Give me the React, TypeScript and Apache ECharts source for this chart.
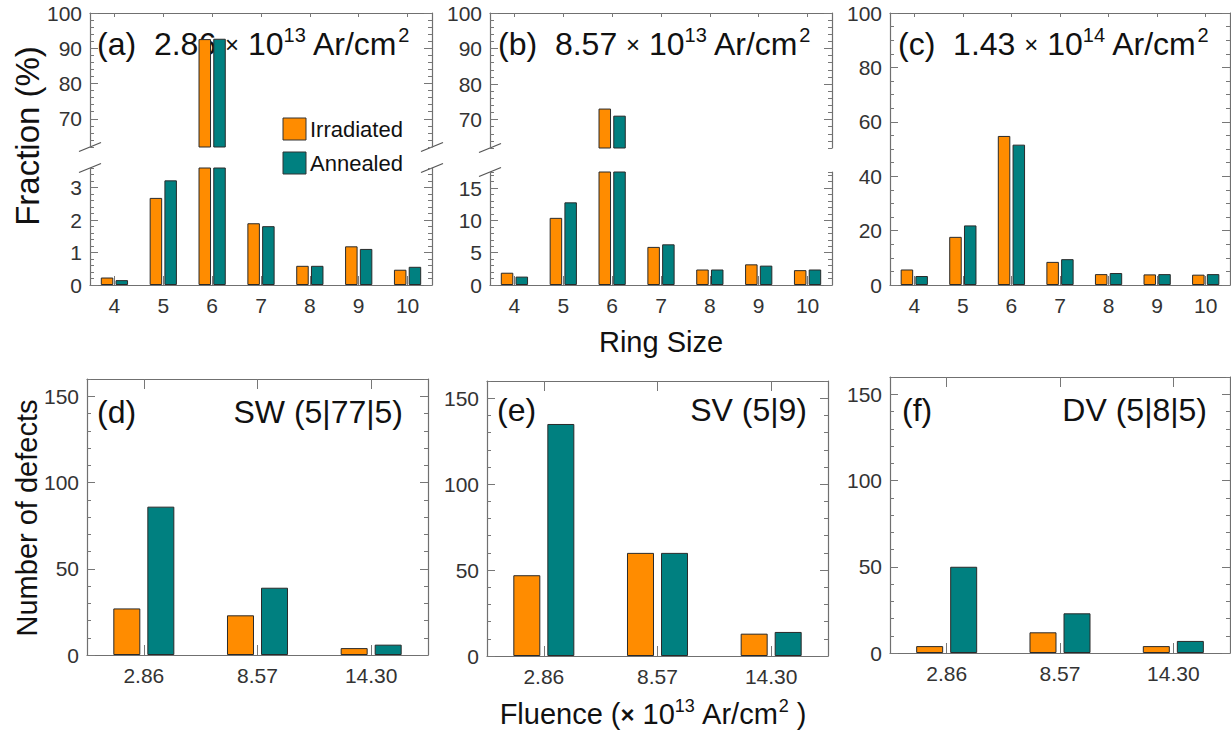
import React, { useEffect, useRef } from 'react';
import * as echarts from 'echarts';

// ---------- data ----------
const ringSizes = ['4', '5', '6', '7', '8', '9', '10'];
const fluenceLabels = ['2.86', '8.57', '14.30'];

const aIrradiated = [0.23, 2.68, 92.6, 1.9, 0.59, 1.19, 0.47];
const aAnnealed = [0.15, 3.22, 92.7, 1.81, 0.59, 1.11, 0.56];
const bIrradiated = [1.9, 10.4, 73.1, 5.9, 2.4, 3.2, 2.3];
const bAnnealed = [1.3, 12.8, 71.1, 6.3, 2.4, 3.0, 2.4];
const cIrradiated = [5.7, 17.7, 54.8, 8.5, 4.0, 3.9, 3.8];
const cAnnealed = [3.3, 21.9, 51.6, 9.5, 4.4, 4.0, 4.0];

const dIrradiated = [27, 23, 4];
const dAnnealed = [86, 39, 6];
const eIrradiated = [47, 60, 13];
const eAnnealed = [135, 60, 14];
const fIrradiated = [4, 12, 4];
const fAnnealed = [50, 23, 7];

const upperTicks = [70, 80, 90, 100];
const aLowerTicks = [0, 1, 2, 3];
const bLowerTicks = [0, 5, 10, 15];
const cTicks = [0, 20, 40, 60, 80, 100];
const defectTicks = [0, 50, 100, 150];

// ---------- style ----------
const FONT = '"Liberation Sans", Arial, Helvetica, sans-serif';
const ORANGE = '#FF8C00';
const TEAL = '#008080';
const AXIS_COLOR = '#707070';
const TICK_COLOR = '#777777';
const LABEL_COLOR = '#333333';
const TEXT_COLOR = '#111111';

type Panel = {
  rect: { left: number; top: number; width: number; height: number };
  cats: string[];
  irr: number[];
  ann: number[];
  min: number;
  max: number;
  major: number[];
  minor: number;
  upper: boolean;
  bottom: boolean;
  top: boolean;
  topLen: number;
  botLen: number;
  barWidth: number;
  barGap: string;
};

const topRow = { topLen: 4, botLen: 9, barWidth: 12.5, barGap: '18%' };
const botRow = { topLen: 10, botLen: 10, barWidth: 27, barGap: '26%' };

const panels: Panel[] = [
  { rect: { left: 90, top: 13, width: 342, height: 134 }, cats: ringSizes, irr: aIrradiated, ann: aAnnealed, min: 62, max: 100, major: upperTicks, minor: 2, upper: true, bottom: false, top: true, ...topRow },
  { rect: { left: 90, top: 168, width: 342, height: 117 }, cats: ringSizes, irr: aIrradiated, ann: aAnnealed, min: 0, max: 3.6, major: aLowerTicks, minor: 0.2, upper: false, bottom: true, top: false, ...topRow },
  { rect: { left: 490, top: 13, width: 342, height: 135 }, cats: ringSizes, irr: bIrradiated, ann: bAnnealed, min: 62, max: 100, major: upperTicks, minor: 2, upper: true, bottom: false, top: true, ...topRow },
  { rect: { left: 490, top: 172, width: 342, height: 113 }, cats: ringSizes, irr: bIrradiated, ann: bAnnealed, min: 0, max: 17.5, major: bLowerTicks, minor: 1, upper: false, bottom: true, top: false, ...topRow },
  { rect: { left: 890, top: 13, width: 340, height: 272 }, cats: ringSizes, irr: cIrradiated, ann: cAnnealed, min: 0, max: 100, major: cTicks, minor: 5, upper: false, bottom: true, top: true, ...topRow },
  { rect: { left: 87, top: 379, width: 341, height: 276 }, cats: fluenceLabels, irr: dIrradiated, ann: dAnnealed, min: 0, max: 160, major: defectTicks, minor: 10, upper: false, bottom: true, top: true, ...botRow },
  { rect: { left: 487, top: 381, width: 341, height: 275 }, cats: fluenceLabels, irr: eIrradiated, ann: eAnnealed, min: 0, max: 160, major: defectTicks, minor: 10, upper: false, bottom: true, top: true, ...botRow },
  { rect: { left: 890, top: 377, width: 340, height: 276 }, cats: fluenceLabels, irr: fIrradiated, ann: fAnnealed, min: 0, max: 160, major: defectTicks, minor: 10, upper: false, bottom: true, top: true, ...botRow },
];

const TITLE_SIZE = 32;
const AXIS_TITLE_SIZE = 29;

const titleRich = {
  m: { fontSize: TITLE_SIZE, fontFamily: FONT, fill: TEXT_COLOR, lineHeight: 38 },
  x: { fontSize: 24, fontFamily: FONT, fill: TEXT_COLOR, lineHeight: 38 },
  s: { fontSize: 20, fontFamily: FONT, fill: TEXT_COLOR, lineHeight: 27, verticalAlign: 'top' },
};

const axisRich = {
  m: { fontSize: AXIS_TITLE_SIZE, fontFamily: FONT, fill: TEXT_COLOR, lineHeight: 35 },
  b: { fontSize: 24, fontWeight: 'bold', fontFamily: FONT, fill: TEXT_COLOR, lineHeight: 35 },
  s: { fontSize: 18, fontFamily: FONT, fill: TEXT_COLOR, lineHeight: 24, verticalAlign: 'top' },
};

function fluenceTitle(tag: string, mant: string, exp: string) {
  return `{m|${tag}  ${mant} }{x|×}{m| 10}{s|${exp}}{m| Ar/cm}{s|2}`;
}

function buildOption() {
  const grid: any[] = [];
  const xAxis: any[] = [];
  const yAxis: any[] = [];
  const series: any[] = [];
  const lineStyle = { color: AXIS_COLOR, width: 1.2 };
  const tickStyle = { color: TICK_COLOR, width: 1 };

  panels.forEach((p, i) => {
    grid.push({ ...p.rect, containLabel: false, outerBoundsMode: 'none' });
    xAxis.push({
      type: 'category', gridIndex: i, position: 'bottom', data: p.cats, boundaryGap: true,
      axisLine: { show: p.bottom, onZero: false, lineStyle },
      axisTick: { show: p.bottom, inside: true, alignWithLabel: true, length: p.botLen, lineStyle: tickStyle },
      axisLabel: { show: p.bottom, fontSize: 21, color: LABEL_COLOR, fontFamily: FONT, margin: 10 },
      splitLine: { show: false },
    });
    xAxis.push({
      type: 'category', gridIndex: i, position: 'top', data: p.cats, boundaryGap: true,
      axisLine: { show: p.top, onZero: false, lineStyle },
      axisTick: { show: p.top, inside: true, alignWithLabel: true, length: p.topLen, lineStyle: tickStyle },
      axisLabel: { show: false },
      splitLine: { show: false },
    });
    const yBase = { type: 'value', gridIndex: i, min: p.min, max: p.max, splitLine: { show: false } };
    yAxis.push({
      ...yBase, position: 'left',
      axisLine: { show: true, onZero: false, lineStyle },
      axisTick: { show: true, inside: true, length: 8, customValues: p.major, lineStyle: tickStyle },
      axisLabel: { show: true, customValues: p.major, fontSize: 21, color: LABEL_COLOR, fontFamily: FONT, margin: 8 },
    });
    yAxis.push({
      ...yBase, position: 'left', interval: p.minor,
      axisLine: { show: false, onZero: false },
      axisTick: { show: true, inside: true, length: 4, lineStyle: tickStyle },
      axisLabel: { show: false },
    });
    yAxis.push({
      ...yBase, position: 'right',
      axisLine: { show: true, onZero: false, lineStyle },
      axisTick: { show: true, inside: true, length: 8, customValues: p.major, lineStyle: tickStyle },
      axisLabel: { show: false, customValues: p.major },
    });
    yAxis.push({
      ...yBase, position: 'right', interval: p.minor,
      axisLine: { show: false, onZero: false },
      axisTick: { show: true, inside: true, length: 4, lineStyle: tickStyle },
      axisLabel: { show: false },
    });
    const filt = (arr: number[]) => (p.upper ? arr.map((v) => (v > p.min ? v : '-')) : arr);
    const mk = (name: string, data: any[], color: string) => ({
      type: 'bar', name, xAxisIndex: 2 * i, yAxisIndex: 4 * i, data,
      barWidth: p.barWidth, barGap: p.barGap, clip: true, silent: true,
      itemStyle: { color, borderColor: '#2a2a2a', borderWidth: 1 },
    });
    series.push(mk('Irradiated', filt(p.irr), ORANGE));
    series.push(mk('Annealed', filt(p.ann), TEAL));
  });

  const breakMark = (cx: number, cy: number) => ({
    type: 'line', silent: true,
    shape: { x1: cx - 11, y1: cy + 4.5, x2: cx + 11, y2: cy - 4.5 },
    style: { stroke: '#555', lineWidth: 1.3 },
  });

  const text = (x: number, y: number, t: string, opts: any = {}) => ({
    type: 'text', x, y, silent: true, ...(opts.rotation ? { rotation: opts.rotation } : {}),
    style: {
      text: t, fontSize: opts.fontSize || TITLE_SIZE, fontFamily: FONT, fill: TEXT_COLOR,
      align: opts.align || 'left', verticalAlign: 'middle', rich: opts.rich,
    },
  });

  const graphic: any[] = [
    // break marks
    breakMark(90, 147), breakMark(90, 168), breakMark(432, 147), breakMark(432, 168),
    breakMark(490, 148), breakMark(490, 172),
    // panel titles
    text(97, 44, fluenceTitle('(a)', '2.86', '13'), { rich: titleRich }),
    text(498, 44, fluenceTitle('(b)', '8.57', '13'), { rich: titleRich }),
    text(898, 44, fluenceTitle('(c)', '1.43', '14'), { rich: titleRich }),
    text(97, 412, '(d)'), text(403, 412, 'SW (5|77|5)', { align: 'right' }),
    text(497, 410, '(e)'), text(807, 410, 'SV (5|9)', { align: 'right' }),
    text(902, 410, '(f)'), text(1207, 410, 'DV (5|8|5)', { align: 'right' }),
    // legend
    { type: 'rect', silent: true, shape: { x: 283, y: 118, width: 23, height: 22 }, style: { fill: ORANGE, stroke: '#333', lineWidth: 1 } },
    { type: 'rect', silent: true, shape: { x: 283, y: 152, width: 23, height: 22 }, style: { fill: TEAL, stroke: '#333', lineWidth: 1 } },
    text(310, 129, 'Irradiated', { fontSize: 22 }),
    text(310, 163, 'Annealed', { fontSize: 22 }),
    // axis titles
    text(27, 136, 'Fraction (%)', { align: 'center', rotation: Math.PI / 2, fontSize: 33 }),
    text(661, 342, 'Ring Size', { align: 'center', fontSize: AXIS_TITLE_SIZE }),
    text(27, 518, 'Number of defects', { align: 'center', rotation: Math.PI / 2, fontSize: AXIS_TITLE_SIZE }),
    text(653, 714, '{m|Fluence (}{b|×}{m| 10}{s|13}{m| Ar/cm}{s|2}{m| )}', { align: 'center', rich: axisRich }),
  ];

  return {
    animation: false,
    backgroundColor: '#ffffff',
    textStyle: { fontFamily: FONT },
    grid, xAxis, yAxis, series, graphic,
  };
}

export default function App() {
  const ref = useRef<HTMLDivElement>(null);
  useEffect(() => {
    if (!ref.current) return;
    const chart = echarts.init(ref.current, null, { renderer: 'svg' });
    chart.setOption(buildOption() as any);
    return () => chart.dispose();
  }, []);
  return (
    <div
      ref={ref}
      style={{ position: 'fixed', left: 0, top: 0, width: 1231, height: 731, background: '#fff' }}
    />
  );
}
